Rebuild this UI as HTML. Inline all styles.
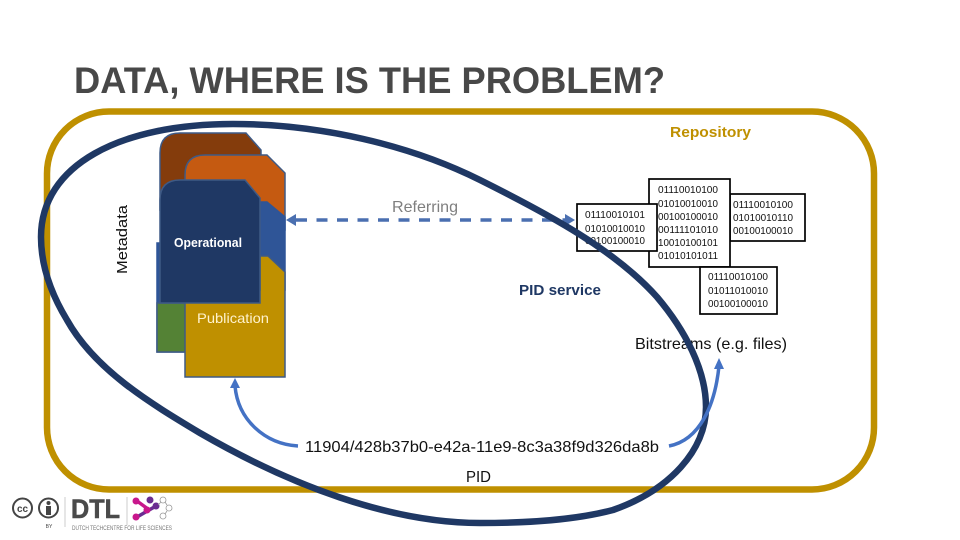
<!DOCTYPE html>
<html><head><meta charset="utf-8"><style>html,body{margin:0;padding:0;background:#fff}svg{display:block}text{font-family:"Liberation Sans",sans-serif}</style></head><body>
<svg width="960" height="540" viewBox="0 0 960 540" xmlns="http://www.w3.org/2000/svg">
<rect width="960" height="540" fill="#fff"/>
<text x="74" y="93" font-size="37.500" font-weight="bold" fill="#484848" textLength="591" lengthAdjust="spacingAndGlyphs">DATA, WHERE IS THE PROBLEM?</text>
<rect x="47" y="111.500" width="827" height="378" rx="62" ry="62" fill="none" stroke="#bf9000" stroke-width="6.500"/>
<text x="670" y="137" font-size="14.500" font-weight="bold" fill="#bf9000" textLength="81" lengthAdjust="spacingAndGlyphs">Repository</text>
<text transform="translate(127,274) rotate(-90)" font-size="15" fill="#111" textLength="69" lengthAdjust="spacingAndGlyphs">Metadata</text>
<g stroke="#3f5a85" stroke-width="1.500">
<path d="M160 210V153Q160 133 180 133H246L261 150V210Z" fill="#843c0c"/>
<path d="M185 230V175Q185 155 205 155H267L285 173V230Z" fill="#c55a11"/>
<path d="M157 352V243H185V202H267L285 217V290H190V352Z" fill="#2f5597" stroke="#2f5597"/>
<path d="M157 303H190V352H157Z" fill="#548235"/>
<path d="M185 377V290H260V256H268L285 272V377Z" fill="#bf9000"/>
<path d="M160 303V200Q160 180 180 180H245L260 198V303Z" fill="#1f3864"/>
</g>
<text x="174" y="247" font-size="13" font-weight="bold" fill="#fff" textLength="68" lengthAdjust="spacingAndGlyphs">Operational</text>
<text x="197" y="323" font-size="14" fill="#fff2cc" textLength="72" lengthAdjust="spacingAndGlyphs">Publication</text>
<text x="392" y="212" font-size="16" fill="#7f7f7f" textLength="66" lengthAdjust="spacingAndGlyphs">Referring</text>
<path d="M296 220H566" fill="none" stroke="#4a6fb0" stroke-width="3.500" stroke-dasharray="11 9.500"/>
<path d="M286 220L296 214V226Z" fill="#4a6fb0"/>
<path d="M575 220L565 214V226Z" fill="#4a6fb0"/>
<g fill="#fff" stroke="#000" stroke-width="1.700">
<rect x="730" y="194" width="75" height="47"/>
<rect x="649" y="179" width="81" height="88"/>
<rect x="577" y="204" width="80" height="47"/>
<rect x="700" y="267" width="77" height="47"/>
</g>
<g font-size="10" fill="#111">
<text x="585" y="218" textLength="60" lengthAdjust="spacingAndGlyphs">01110010101</text>
<text x="585" y="232" textLength="60" lengthAdjust="spacingAndGlyphs">01010010010</text>
<text x="585" y="244" textLength="60" lengthAdjust="spacingAndGlyphs">00100100010</text>
<text x="658" y="193" textLength="60" lengthAdjust="spacingAndGlyphs">01110010100</text>
<text x="658" y="207" textLength="60" lengthAdjust="spacingAndGlyphs">01010010010</text>
<text x="658" y="220" textLength="60" lengthAdjust="spacingAndGlyphs">00100100010</text>
<text x="658" y="233" textLength="60" lengthAdjust="spacingAndGlyphs">00111101010</text>
<text x="658" y="246" textLength="60" lengthAdjust="spacingAndGlyphs">10010100101</text>
<text x="658" y="259" textLength="60" lengthAdjust="spacingAndGlyphs">01010101011</text>
<text x="733" y="208" textLength="60" lengthAdjust="spacingAndGlyphs">01110010100</text>
<text x="733" y="221" textLength="60" lengthAdjust="spacingAndGlyphs">01010010110</text>
<text x="733" y="234" textLength="60" lengthAdjust="spacingAndGlyphs">00100100010</text>
<text x="708" y="280" textLength="60" lengthAdjust="spacingAndGlyphs">01110010100</text>
<text x="708" y="294" textLength="60" lengthAdjust="spacingAndGlyphs">01011010010</text>
<text x="708" y="307" textLength="60" lengthAdjust="spacingAndGlyphs">00100100010</text>
</g>
<text x="519" y="295" font-size="14.500" font-weight="bold" fill="#1f3864" textLength="82" lengthAdjust="spacingAndGlyphs">PID service</text>
<text x="635" y="349" font-size="16" fill="#111" textLength="152" lengthAdjust="spacingAndGlyphs">Bitstreams (e.g. files)</text>
<text x="305" y="452" font-size="16" fill="#111" textLength="354" lengthAdjust="spacingAndGlyphs">11904/428b37b0-e42a-11e9-8c3a38f9d326da8b</text>
<text x="466" y="482" font-size="16" fill="#111" textLength="25" lengthAdjust="spacingAndGlyphs">PID</text>
<path d="M41 237C41 165 120 124 233 124C320 124 410 145 480 180C550 215 615 250 657 297C685 330 706 370 706 407C706 450 670 490 613 510C575 520 530 523 480 523C390 523 290 485 200 433C150 403 95 370 67 320C50 292 41 265 41 237Z" fill="none" stroke="#1f3864" stroke-width="6.500"/>
<g fill="none" stroke="#4472c4" stroke-width="3.500">
<path d="M298 446C265 444 238 420 235 386"/>
<path d="M669 446C700 440 715 405 719 366"/>
</g>
<path d="M235 378L230 388H240Z" fill="#4472c4"/>
<path d="M719 358L714 369H724Z" fill="#4472c4"/>
<g fill="none" stroke="#444" stroke-width="2">
<circle cx="22.500" cy="508" r="9.500"/>
<circle cx="48.500" cy="508" r="9.500"/>
</g>
<text x="22.500" y="512" font-size="10" font-weight="bold" fill="#444" text-anchor="middle">cc</text>
<circle cx="48.500" cy="503" r="2" fill="#444"/>
<rect x="46" y="506" width="5" height="9" fill="#444"/>
<text x="49" y="528" font-size="5" fill="#444" text-anchor="middle">BY</text>
<path d="M65 497V527M127 497V525" stroke="#ccc" stroke-width="1"/>
<text x="71" y="518" font-size="27" font-weight="bold" fill="#4a4a4a" stroke="#4a4a4a" stroke-width=".6" textLength="49" lengthAdjust="spacingAndGlyphs">DTL</text>
<text x="72" y="530" font-size="6" fill="#777" textLength="100" lengthAdjust="spacingAndGlyphs">DUTCH TECHCENTRE FOR LIFE SCIENCES</text>
<path d="M137 501L148 509" stroke="#c8178c" stroke-width="3.500"/>
<path d="M137 517L156 506" stroke="#6a2c91" stroke-width="3.500"/>
<circle cx="136" cy="501" r="3.500" fill="#c8178c"/><circle cx="150" cy="500" r="3.500" fill="#6a2c91"/><circle cx="136" cy="517" r="3.500" fill="#c8178c"/><circle cx="147" cy="510" r="3.500" fill="#c8178c"/><circle cx="156" cy="506" r="3.500" fill="#6a2c91"/>
<g fill="none" stroke="#999" stroke-width=".8"><circle cx="163" cy="500" r="3"/><circle cx="169" cy="508" r="3"/><circle cx="163" cy="516" r="3"/><path d="M158 505L161 502M165 502L167 505M167 511L165 514"/></g>
</svg>
</body></html>
